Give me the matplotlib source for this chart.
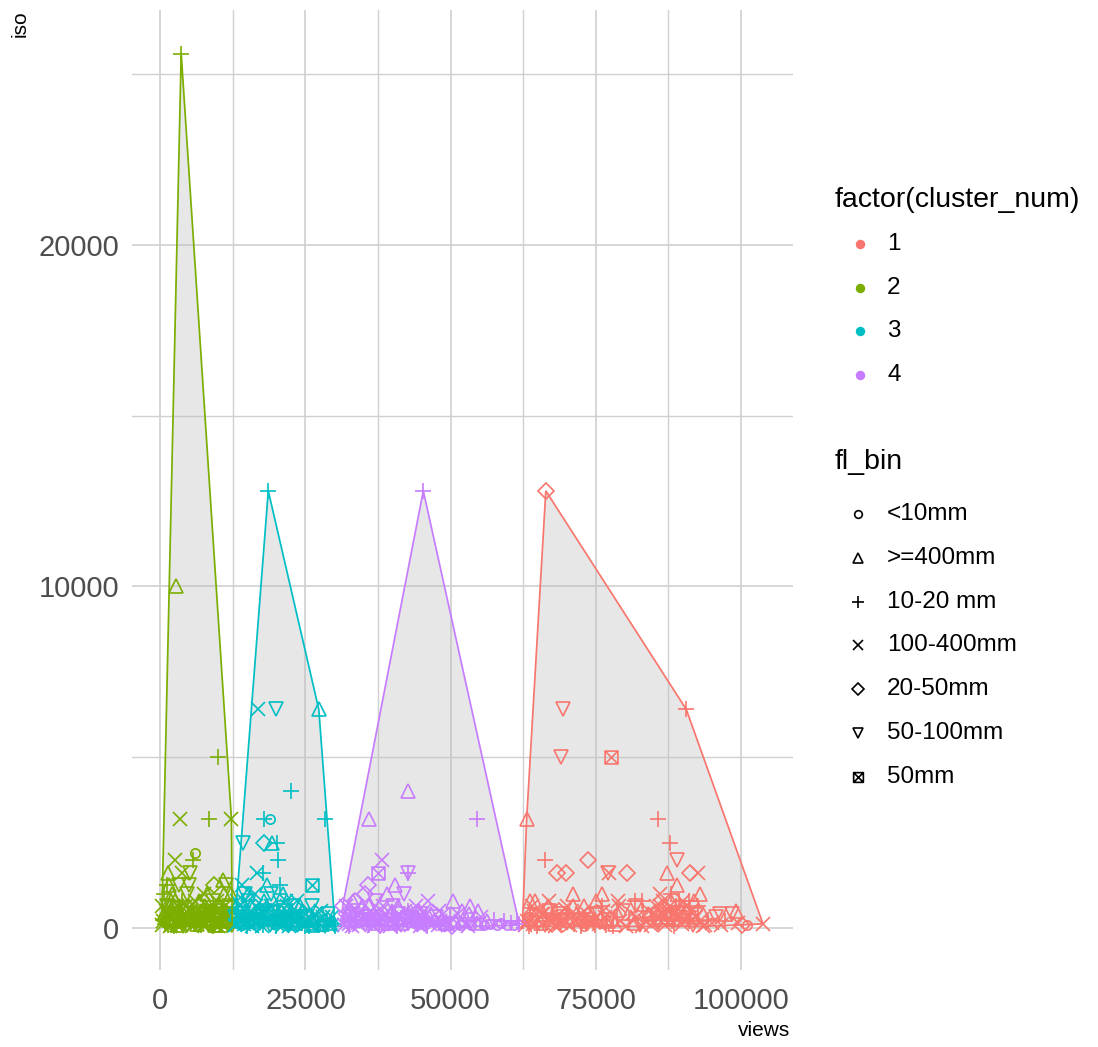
import matplotlib
matplotlib.use("Agg")
import matplotlib.pyplot as plt
from matplotlib.path import Path
from matplotlib.lines import Line2D
from matplotlib.patches import Polygon

plt.rcParams['font.family'] = ['Liberation Sans', 'DejaVu Sans']

# ---------------- data ----------------
clusters = ['1', '2', '3', '4']
cluster_colors = ['#F8766D', '#7CAE00', '#00BFC4', '#C77CFF']
fl_bins = ['<10mm', '>=400mm', '10-20 mm', '100-400mm', '20-50mm', '50-100mm', '50mm']
bin_codes = ['c', 't', 'p', 'x', 'd', 'v', 's']

x_ticks = [0, 25000, 50000, 75000, 100000]
x_ticklabels = ['0', '25000', '50000', '75000', '100000']
y_ticks = [0, 10000, 20000]
y_ticklabels = ['0', '10000', '20000']

# cluster 2 (green)
c2_views = [3600, 2750, 9950, 3450, 8450, 12250, 6000, 5700, 2550, 1250, 3800, 1100, 5150, 5000, 10750, 11300, 700,
            2100, 4650, 7450, 10900, 12150, 1450, 3300, 8050, 9300,
            350, 610, 830, 1090, 1310, 1520, 1760, 1930, 2210, 2420,
            2660, 2890, 3130, 3340, 3620, 3810, 4060, 4290, 4570, 4790,
            5010, 5280, 5520, 5760, 6020, 6240, 6510, 6690, 6960, 7190,
            7460, 7690, 7920, 8160, 8410, 8670, 8880, 9140, 9390, 9610,
            9860, 10110, 10340, 10590, 10840, 11090, 11310, 11560, 11790, 12040,
            12280, 480, 990, 1660, 2560, 3010, 3890, 4410, 5190, 5910,
            6600, 7110, 7790, 8590, 9090, 9790, 10480, 11190, 11880, 300,
            1200, 2000, 2800, 3500, 4200, 5600, 6300, 7000, 7650, 8300, 9500, 10200, 11000, 11700, 12350, 12380,
            420, 760, 1150, 1480, 1830, 2130, 2470, 2790, 3060, 3420,
            3730, 4120, 4460, 4880, 5140, 5460, 5830, 6130, 6420, 6780,
            7060, 7380, 7730, 8020, 8350, 8740, 9010, 9270, 9560, 9930,
            10230, 10660, 10960, 11430, 11650, 12130, 1590, 3950, 6880, 9710]
c2_iso = [25600, 10000, 5000, 3200, 3200, 3200, 2200, 2000, 2000, 1600, 1600, 1250, 1600, 1250, 1400, 1250, 1000,
          1000, 1000, 1000, 1000, 1000, 1250, 1250, 1000, 1250,
          100, 400, 200, 640, 100, 320, 800, 160, 500, 64,
          250, 640, 160, 400, 100, 800, 250, 500, 100, 320,
          640, 200, 50, 400, 800, 125, 320, 640, 80, 400,
          200, 640, 125, 400, 500, 100, 250, 800, 200, 400,
          64, 320, 640, 160, 400, 100, 250, 500, 125, 320,
          100, 250, 500, 50, 800, 320, 50, 640, 500, 250,
          800, 160, 500, 640, 50, 500, 80, 640, 640, 640,
          200, 400, 100, 640, 160, 320, 500, 250, 100, 200, 100, 200, 500, 320, 500, 200,
          200, 125, 400, 250, 100, 320, 400, 200, 500, 250,
          320, 400, 200, 160, 400, 320, 125, 400, 250, 200,
          500, 100, 320, 250, 160, 400, 500, 125, 320, 250,
          500, 320, 200, 400, 400, 200, 640, 320, 400, 800]
c2_bin = (list('ptpxpxcpxtxpvvtvp') + list('tvxtttvtd')
          + list('xtcvpxtdxp') + list('vxctxpxdvx') + list('tpxvxtxdpx')
          + list('vtxpxctvxd') + list('xptxvxtxpx') + list('vpxxtpvxxc')
          + list('txpxpxtxvx') + list('dptxptptxvtxptxp')
          + list('xpxtxpvxtx') + list('pxcxtxpxvx') + list('txpxdxtxpx') + list('vxtxpxtxpx'))

# cluster 3 (teal)
c3_views = [18600, 16900, 19950, 27300, 22500, 28300, 17900, 18900,
            14200, 17900, 19300, 20100, 20300, 16700, 17700, 26100,
            30100, 18400, 23600, 14600, 14100, 13200, 15100, 16250, 19050, 21050, 20550, 24050, 25550,
            12820, 13090, 13420, 13710, 14030, 14290, 14620, 14880, 15230, 15490,
            15810, 16080, 16430, 16690, 17020, 17280, 17630, 17890, 18210, 18480,
            18830, 19090, 19420, 19680, 20030, 20290, 20620, 20880, 21230, 21490,
            21820, 22090, 22430, 22680, 23020, 23290, 23630, 23880, 24220, 24490,
            24830, 25080, 25430, 25690, 26020, 26280, 26630, 26890, 27220, 27480,
            27830, 28090, 28420, 28690, 29030, 29280, 29620, 29880,
            13300, 14400, 15700, 16900, 18000, 19200, 20800, 21600, 22900, 24600, 26100, 27700, 28900, 29500,
            12950, 15000, 17500, 19900, 22200, 24900,
            13000, 13260, 13580, 13860, 14150, 14470, 14760, 15060, 15350, 15640,
            15960, 16280, 16560, 16840, 17160, 17460, 17760, 18060, 18350, 18660,
            18960, 19260, 19560, 19860, 20160, 20460, 20760, 21060, 21380, 21700,
            22000, 22320, 22560, 23160, 23480, 24060, 24380, 25280, 26480, 27050]
c3_iso = [12800, 6400, 6400, 6400, 4000, 3200, 3200, 3200,
          2500, 2500, 2500, 2500, 2000, 1600, 1600, 1250,
          64, 1250, 800, 1000, 1250, 800, 1000, 1000, 1000, 1000, 1250, 640, 500,
          100, 400, 200, 640, 100, 320, 500, 160, 800, 250,
          64, 400, 640, 125, 320, 500, 80, 800, 250, 400,
          100, 640, 200, 500, 125, 320, 800, 64, 400, 250,
          640, 100, 320, 500, 160, 250, 80, 400, 200, 500,
          100, 320, 160, 64, 250, 100, 400, 160, 80, 250,
          125, 320, 64, 200, 100, 160, 80, 125,
          500, 800, 640, 200, 500, 320, 500, 800, 640, 320, 640, 500, 400, 320,
          320, 64, 64, 64, 64, 50,
          250, 160, 400, 320, 200, 125, 400, 320, 160, 500,
          200, 320, 400, 250, 160, 640, 320, 200, 640, 250,
          400, 320, 160, 250, 500, 200, 320, 160, 500, 320,
          250, 400, 200, 400, 320, 320, 160, 250, 160, 200]
c3_bin = (list('pxvtpppc') + list('vdtppxps') + list('ptxvxxtxvtptx')
          + list('xtvxcptxvp') + list('xtxdvxptxc') + list('vxptxdvxpt')
          + list('xvxptxvxpt') + list('xvxpxtxvpx') + list('txvpxtxp')
          + list('pxtxvxtxvxvxvx') + list('vpxpxp')
          + list('pxvxtxpxvx') + list('txpxvxtxpx') + list('dxvxpxtxvx') + list('pxtxvxpxtx'))

# cluster 4 (purple)
c4_views = [45300, 35900, 42700, 54500, 38200, 37500, 42600, 42700,
            35700, 40400, 42000, 46100, 50400, 53400, 54800, 33200, 31400,
            50300, 61800, 35300, 33600, 39000, 37000, 41000, 44000,
            31600, 31950, 32300, 32700, 33050, 33500, 33900, 34250, 34700, 35050,
            35500, 35900, 36300, 36650, 37100, 37450, 37900, 38300, 38650, 39100,
            39500, 39850, 40300, 40700, 41100, 41500, 41900, 42300, 42700, 43100,
            43500, 43900, 44300, 44700, 45100, 45500, 45900, 46300, 46700, 47100,
            47500, 47900, 48300, 48700, 49100, 49500, 49900, 50700, 51200, 51600,
            52100, 52600, 53100, 53600, 54100, 54600, 55200, 55700, 56300, 56800,
            57400, 58000, 58600, 59200, 59800, 60400, 61000, 61400,
            32000, 34000, 36000, 38000, 40000, 44500, 48000, 52000,
            32500, 36800, 40800, 44800, 48800, 53000,
            31800, 32150, 32500, 32900, 33250, 33700, 34100, 34450, 34850, 35250,
            35700, 36100, 36450, 36850, 37250, 37650, 38100, 38450, 38850, 39300,
            39700, 40100, 40500, 40900, 41300, 41700, 42100, 42500, 42900, 43300,
            43700, 44100, 44500, 44900, 45300, 45700, 46500, 47300, 48100, 49300]
c4_iso = [12800, 3200, 4000, 3200, 2000, 1600, 1600, 1600,
          1250, 1250, 1000, 800, 800, 640, 500, 800, 640,
          50, 125, 1000, 800, 1000, 800, 640, 640,
          100, 320, 160, 500, 64, 250, 400, 100, 640, 200,
          320, 80, 500, 160, 250, 400, 100, 640, 200, 320,
          64, 500, 160, 250, 400, 100, 320, 200, 500, 80,
          250, 400, 125, 320, 200, 500, 64, 250, 400, 160,
          320, 100, 250, 400, 160, 80, 320, 200, 400, 100,
          250, 160, 400, 100, 250, 160, 320, 100, 200, 125,
          250, 100, 160, 200, 100, 160, 80, 200,
          640, 500, 640, 500, 640, 500, 500, 500,
          50, 50, 50, 50, 50, 50,
          250, 400, 125, 320, 200, 400, 160, 320, 250, 400,
          200, 320, 250, 400, 160, 200, 320, 250, 400, 160,
          200, 320, 125, 400, 250, 160, 500, 320, 250, 400,
          160, 320, 200, 400, 320, 160, 125, 250, 200, 160]
c4_bin = (list('pttpxsvp') + list('dtvxttttd') + list('dpddtvtx')
          + list('xcvtxpdxtx') + list('vpxtxcdxvp') + list('xtxdxvtxpx')
          + list('txvxdxpxtx') + list('vxcxtxptxc') + list('txtcptxctc')
          + list('pccpcpcp') + list('xvtxvtxt') + list('pxpxcx')
          + list('xtxvxpxtxd') + list('xvxtxpxcxt') + list('xpxvxtxdxp') + list('xtxvxpxcxt'))

# cluster 1 (red)
c1_views = [66400, 90600, 69300, 69000, 77600, 63100, 85700, 87800,
            66300, 73700, 68300, 69900, 77100, 77300, 80400, 71100,
            89000, 87300, 91200, 92600, 89000, 92900, 76100, 67000,
            78800, 81800, 63700, 68500, 96400, 99100, 100200, 103800, 62400,
            64500, 75000, 83000, 86000, 88000, 90000, 92000,
            62900, 63400, 63900, 64300, 64800, 65300, 65700, 66200, 66700, 67200,
            67700, 68100, 68600, 69100, 69600, 70100, 70500, 71000, 71500, 72000,
            72500, 72900, 73400, 73900, 74400, 74800, 75300, 75800, 76300, 76800,
            77300, 77800, 78300, 78700, 79200, 79700, 80200, 80700, 81200, 81600,
            82100, 82600, 83100, 83500, 84000, 84500, 85000, 85400, 85800, 86200,
            86600, 87000, 87400, 87800, 88200, 88600, 89000, 89400, 89800, 90200,
            90600, 91000, 91400, 91800, 92200, 92600, 93000, 93400, 93800, 94300,
            95000, 95700, 96500, 97300, 98500, 99500, 101000,
            64000, 67000, 70000, 73000, 76000, 79000, 82000, 88000, 91000, 86500,
            63500, 68000, 73000, 78000, 83000, 88500, 93500,
            63200, 63700, 64200, 64700, 65100, 65600, 66000, 66500, 67000, 67500,
            68000, 68400, 68900, 69400, 69900, 70300, 70800, 71300, 71800, 72300,
            72700, 73200, 73700, 74200, 74600, 75100, 75600, 76100, 76600, 77100,
            84200, 84700, 85200, 85600, 86000, 86400, 86800, 87200, 87600, 88000,
            88400, 88800, 89200, 89600, 90000, 90400, 90800, 91200, 91600, 92000]
c1_iso = [12800, 6400, 6400, 5000, 5000, 3200, 3200, 2500,
          2000, 2000, 1600, 1600, 1600, 1600, 1600, 1000,
          2000, 1600, 1600, 1600, 1250, 1000, 1000, 800,
          800, 800, 800, 400, 400, 500, 100, 125, 200,
          800, 800, 800, 1000, 1000, 800, 800,
          100, 320, 160, 500, 64, 250, 400, 100, 640, 200,
          320, 80, 500, 160, 250, 400, 100, 640, 200, 320,
          64, 500, 160, 250, 400, 100, 320, 200, 500, 80,
          250, 400, 125, 320, 200, 500, 64, 250, 400, 160,
          320, 100, 500, 200, 400, 80, 250, 640, 160, 400,
          500, 100, 320, 640, 200, 500, 250, 800, 125, 400,
          640, 200, 500, 100, 320, 640, 200, 400, 100, 250,
          160, 320, 100, 200, 400, 160, 100,
          640, 500, 640, 640, 640, 640, 640, 800, 800, 800,
          50, 50, 50, 50, 50, 50, 50,
          200, 400, 125, 320, 250, 160, 400, 200, 320, 125,
          250, 400, 200, 320, 160, 250, 400, 125, 320, 200,
          400, 250, 160, 320, 200, 400, 125, 250, 320, 200,
          500, 320, 400, 200, 640, 320, 400, 250, 500, 320,
          400, 640, 320, 500, 250, 400, 320, 500, 250, 320]
c1_bin = (list('dpvvstpp') + list('pdddvxdt') + list('vtdxtttx')
          + list('xptvvtdxp') + list('ttpxpxt')
          + list('xcvxpdxvtx') + list('pxdxvpxtxc') + list('pxvxtpxdxp')
          + list('vxtpxvxpxt') + list('xvpxtxpxvx') + list('pxtxpxvpxt')
          + list('xpxvxpxtxp') + list('xvxpvxc')
          + list('xvxtpxvtpx') + list('pxcpxpx')
          + list('xpxvxtxpxd') + list('xpxvxtxpxv') + list('xpxtxvxpxt')
          + list('xpxvxtxpxd') + list('xpxtxvxpxt'))

# --------------- helpers ---------------
sqx = Path([(-1, -1), (1, -1), (1, 1), (-1, 1), (-1, -1), (-1, -1), (1, 1), (1, -1), (-1, 1)],
           [Path.MOVETO, Path.LINETO, Path.LINETO, Path.LINETO, Path.CLOSEPOLY,
            Path.MOVETO, Path.LINETO, Path.MOVETO, Path.LINETO])
marker_style = {
    'c': ('o', 6.7), 't': ('^', 10.0), 'p': ('+', 11.5), 'x': ('x', 10.5),
    'd': ('D', 7.8), 'v': ('v', 10.0), 's': (sqx, 9.2),
}


def hull(px, py):
    pts = sorted(set(zip(px, py)))
    def cross(o, a, b):
        return (a[0] - o[0]) * (b[1] - o[1]) - (a[1] - o[1]) * (b[0] - o[0])
    lower, upper = [], []
    for p in pts:
        while len(lower) >= 2 and cross(lower[-2], lower[-1], p) <= 0:
            lower.pop()
        lower.append(p)
    for p in reversed(pts):
        while len(upper) >= 2 and cross(upper[-2], upper[-1], p) <= 0:
            upper.pop()
        upper.append(p)
    return lower[:-1] + upper[:-1]


W, H = 1098, 1047
fig = plt.figure(figsize=(W / 100, H / 100), dpi=100)
L, R, T, B = 132, 793, 10, 970
ax = fig.add_axes([L / W, 1 - B / H, (R - L) / W, (B - T) / H])
ax.set_xlim(-4875, 108975)
ax.set_ylim(-1227, 26877)
for s in ax.spines.values():
    s.set_visible(False)
ax.set_xticks(x_ticks)
ax.set_xticklabels(x_ticklabels)
ax.set_yticks(y_ticks)
ax.set_yticklabels(y_ticklabels)
ax.set_xticks([12500, 37500, 62500, 87500], minor=True)
ax.set_yticks([5000, 15000, 25000], minor=True)
ax.tick_params(which='both', length=0)
ax.tick_params(axis='x', labelsize=21, labelcolor='#4D4D4D', pad=12)
ax.tick_params(axis='y', labelsize=21, labelcolor='#4D4D4D', pad=9)
ax.grid(which='major', color='#D0D0D0', lw=1.2, zorder=0)
ax.grid(which='minor', color='#D0D0D0', lw=1.0, zorder=0)
ax.set_axisbelow(True)

data = [(c1_views, c1_iso, c1_bin), (c2_views, c2_iso, c2_bin),
        (c3_views, c3_iso, c3_bin), (c4_views, c4_iso, c4_bin)]

for (vx, vy, vb), col in zip(data, cluster_colors):
    assert len(vx) == len(vy) == len(vb), (len(vx), len(vy), len(vb))
    h = hull(vx, vy)
    ax.add_patch(Polygon(h, closed=True, facecolor='#BEBEBE', alpha=0.36,
                         edgecolor='none', zorder=1))
    for code in bin_codes:
        xs = [a for a, b in zip(vx, vb) if b == code]
        ys = [a for a, b in zip(vy, vb) if b == code]
        if xs:
            m, ms = marker_style[code]
            ax.plot(xs, ys, ls='none', marker=m, ms=ms, mfc='none', mec=col,
                    mew=1.2, zorder=2)
    ax.add_patch(Polygon(h, closed=True, facecolor='none', edgecolor=col,
                         lw=1.25, zorder=3))

# axis titles
fig.text(20 / W, 1 - 10 / H, 'iso', rotation=90, ha='center', va='top', fontsize=15)
fig.text(790 / W, 1 - 1030 / H, 'views', ha='right', va='center', fontsize=15)

# legends
def fx(px):
    return px / W

def fy(py):
    return 1 - py / H

fig.text(fx(835), fy(200), 'factor(cluster_num)', ha='left', va='center', fontsize=20.5)
for i, (lab, col) in enumerate(zip(clusters, cluster_colors)):
    y = 244 + i * 43.7
    fig.add_artist(Line2D([fx(860)], [fy(y)], marker='o', ms=5.8, mfc=col, mec=col,
                          ls='none', transform=fig.transFigure))
    fig.text(fx(887), fy(y), lab, ha='left', va='center', fontsize=17.5)

fig.text(fx(835), fy(462), 'fl_bin', ha='left', va='center', fontsize=20.5)
legend_ms = {'c': 5.5, 't': 7.5, 'p': 8.5, 'x': 7.5, 'd': 6.0, 'v': 7.5, 's': 7.0}
for i, (lab, code) in enumerate(zip(fl_bins, bin_codes)):
    y = 514 + i * 43.8
    m, _ = marker_style[code]
    fig.add_artist(Line2D([fx(858)], [fy(y)], marker=m, ms=legend_ms[code], mfc='none',
                          mec='black', mew=1.2, ls='none', transform=fig.transFigure))
    fig.text(fx(887), fy(y), lab, ha='left', va='center', fontsize=17.5)

fig.savefig('out.png', dpi=100)
